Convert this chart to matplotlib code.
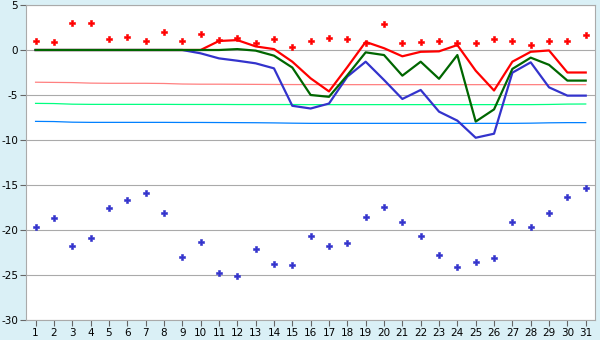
import matplotlib.pyplot as plt

plt.rcParams['axes.unicode_minus'] = False
plt.rcParams['font.family'] = 'DejaVu Sans'

days = list(range(1, 32))

# red points above the lines
red_points = [1.0, 0.85, 3.0, 3.0, 1.2, 1.4, 1.0, 2.0, 1.0, 1.75, 1.1, 1.3, 0.8, 1.2, 0.3,
              1.0, 1.3, 1.2, 0.8, 2.9, 0.75, 0.85, 1.0, 0.75, 0.75, 1.2, 1.0, 0.55, 1.05, 1.0, 1.65]
# blue points in the lower part
blue_points = [-19.7, -18.7, -21.8, -20.9, -17.6, -16.7, -15.9, -18.1, -23.0, -21.3, -24.8,
               -25.1, -22.1, -23.8, -23.9, -20.7, -21.8, -21.4, -18.5, -17.4, -19.1, -20.7,
               -22.8, -24.1, -23.5, -23.1, -19.1, -19.7, -18.1, -16.3, -15.3]

red_line = [0, 0, 0, 0, 0, 0, 0, 0, 0, 0, 1.0, 1.1, 0.4, 0.1, -1.3, -3.15, -4.6, -1.9, 0.9,
            0.2, -0.7, -0.2, -0.15, 0.55, -2.3, -4.5, -1.3, -0.2, -0.05, -2.5, -2.5]
green_line = [0, 0, 0, 0, 0, 0, 0, 0, 0, 0, 0, 0.1, -0.07, -0.63, -1.95, -5.0, -5.2, -2.8,
              -0.26, -0.56, -2.85, -1.3, -3.2, -0.56, -7.95, -6.6, -2.1, -0.85, -1.65, -3.4, -3.4]
blue_line = [0, 0, 0, 0, 0, 0, 0, 0, 0, -0.37, -0.93, -1.19, -1.48, -2.04, -6.2, -6.5, -5.95,
             -2.96, -1.3, -3.33, -5.44, -4.44, -6.85, -7.85, -9.75, -9.3, -2.52, -1.37, -4.15,
             -5.07, -5.07]

# pale, almost flat reference lines
salmon_ref = [-3.58, -3.6, -3.62, -3.68, -3.7, -3.7, -3.7, -3.72, -3.78, -3.8, -3.8, -3.81,
              -3.82, -3.83, -3.84, -3.84, -3.85, -3.85, -3.85, -3.85, -3.85, -3.85, -3.85, -3.85,
              -3.85, -3.85, -3.85, -3.85, -3.85, -3.85, -3.85]
mint_ref = [-5.93, -5.95, -6.02, -6.04, -6.04, -6.04, -6.04, -6.04, -6.05, -6.05, -6.05, -6.06,
            -6.06, -6.06, -6.06, -6.07, -6.07, -6.07, -6.07, -6.07, -6.07, -6.07, -6.07, -6.07,
            -6.07, -6.07, -6.07, -6.07, -6.05, -6.01, -6.0]
sky_ref = [-7.93, -7.95, -8.02, -8.04, -8.04, -8.04, -8.04, -8.04, -8.05, -8.05, -8.06, -8.07,
           -8.08, -8.1, -8.13, -8.15, -8.15, -8.15, -8.15, -8.15, -8.15, -8.15, -8.15, -8.15,
           -8.15, -8.15, -8.15, -8.13, -8.09, -8.07, -8.07]

fig = plt.figure(figsize=(6, 3.4), dpi=100, facecolor='#DAF0F6')
ax = fig.add_axes([0.044, 0.0588, 0.9475, 0.9265])
ax.set_facecolor('white')

ax.plot(days, salmon_ref, color='#FF8080', lw=0.9)
ax.plot(days, mint_ref, color='#00FF80', lw=0.9)
ax.plot(days, sky_ref, color='#0080FF', lw=0.9)

ax.plot(days, red_line, color='#FF0000', lw=1.6)
ax.plot(days, blue_line, color='#3333CC', lw=1.6)
ax.plot(days, green_line, color='#006600', lw=1.6)

ax.plot(days, red_points, linestyle='none', marker='P', markersize=4.5,
        color='#FF0000', markeredgewidth=0.4, markeredgecolor='#FF0000')
ax.plot(days, blue_points, linestyle='none', marker='P', markersize=4.5,
        color='#3333CC', markeredgewidth=0.4, markeredgecolor='#3333CC')

ax.set_xlim(0.5, 31.5)
ax.set_ylim(-30, 5)
ax.set_xticks(days)
ax.set_yticks(range(-30, 6, 5))
ax.grid(axis='y', color='#AAAAAA', lw=0.8)
ax.set_axisbelow(True)
for s in ax.spines.values():
    s.set_color('#AAAAAA')
ax.tick_params(axis='both', colors='#666666', labelcolor='black', labelsize=7.5,
               length=4, width=0.8, pad=2)

fig.savefig('out.png', dpi=100, facecolor=fig.get_facecolor())
